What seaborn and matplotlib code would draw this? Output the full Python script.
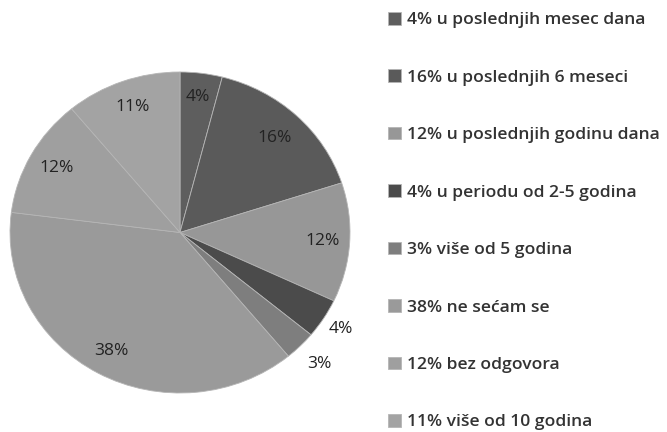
import numpy as np
import seaborn as sns
import matplotlib.pyplot as plt

# pie data, clockwise from 12 o'clock
shares = [4, 16, 12, 4, 3, 38, 12, 11]
answers = ['u poslednjih mesec dana', 'u poslednjih 6 meseci', 'u poslednjih godinu dana',
           'u periodu od 2-5 godina', 'više od 5 godina', 'ne sećam se',
           'bez odgovora', 'više od 10 godina']
grays = ['#5e5e5e', '#5a5a5a', '#979797', '#4b4b4b', '#7e7e7e', '#9a9a9a', '#9f9f9f', '#a3a3a3']
label_r = [0.85, 0.81, 0.84, 1.12, 1.16, 0.84, 0.83, 0.83]

sns.set_theme(style='white')
plt.rcParams['font.family'] = ['Open Sans', 'DejaVu Sans']

fig = plt.figure(figsize=(6.67, 4.32), dpi=100)
ax = fig.add_axes([10 / 667, 39 / 432, 340 / 667, 321 / 432])

wedges, _ = ax.pie(shares, colors=grays, startangle=90, counterclock=False,
                   wedgeprops=dict(linewidth=0.6, edgecolor='#b5b5b5'))
ax.set_aspect('auto')
ax.set_xlim(-1, 1)
ax.set_ylim(-1, 1)

for w, v, r in zip(wedges, shares, label_r):
    mid = np.deg2rad((w.theta1 + w.theta2) / 2)
    ax.text(r * np.cos(mid), r * np.sin(mid), f'{v}%', ha='center', va='center',
            fontsize=12.5, color='#222222')

leg_labels = [f'{v}% {a}' for v, a in zip(shares, answers)]
fig.legend(wedges, leg_labels, loc='upper left', bbox_to_anchor=(372 / 667, 1 + 4 / 432),
           frameon=False, labelspacing=2.34, handlelength=0.75,
           handleheight=0.75, handletextpad=0.35, labelcolor='#333333',
           prop={'family': 'Open Sans', 'weight': 'semibold', 'size': 12.6})

fig.savefig('out.png', dpi=100)
